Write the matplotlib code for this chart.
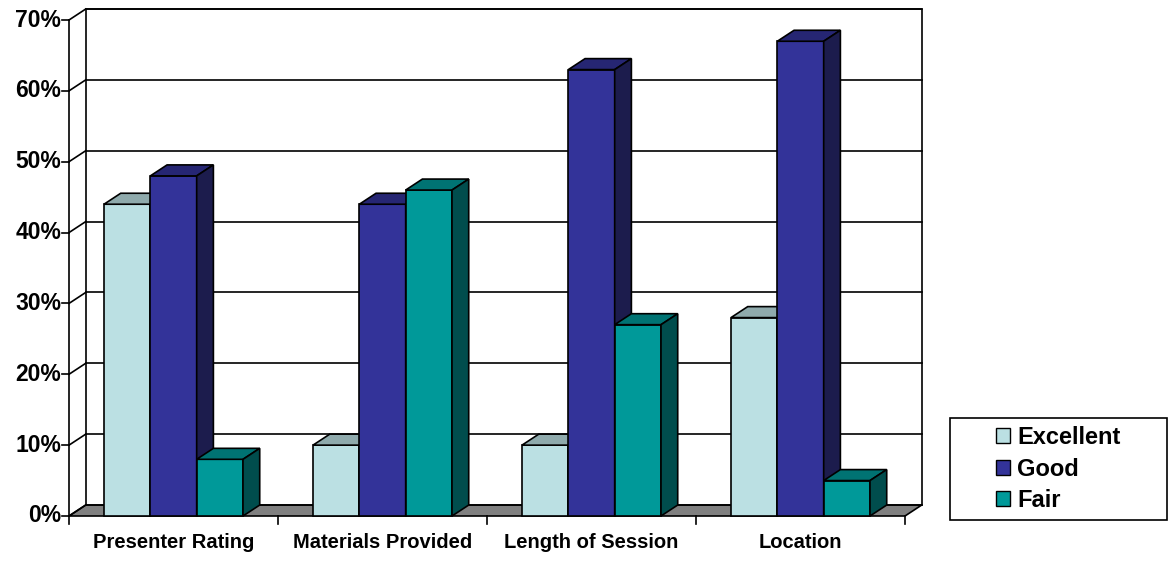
import matplotlib
matplotlib.use('Agg')
import matplotlib.pyplot as plt
from matplotlib.patches import Polygon, Rectangle, Patch

categories = ['Presenter Rating', 'Materials Provided', 'Length of Session', 'Location']
series = ['Excellent', 'Good', 'Fair']
excellent = [44, 10, 10, 28]
good = [48, 44, 63, 67]
fair = [8, 46, 27, 5]
yticks = [0, 10, 20, 30, 40, 50, 60, 70]
ytick_labels = ['0%', '10%', '20%', '30%', '40%', '50%', '60%', '70%']

# front, top, side shades for each series
face_colors = {
    'Excellent': ('#BBE0E3', '#8FAAAC', '#6E8486'),
    'Good': ('#333399', '#262673', '#1C1C4D'),
    'Fair': ('#009999', '#007373', '#004D4D'),
}

plt.rcParams['font.family'] = ['Liberation Sans', 'DejaVu Sans']
plt.rcParams['font.weight'] = 'bold'

fig = plt.figure(figsize=(11.71, 5.65), dpi=100)
ax = fig.add_axes([0, 0, 1, 1])
px_x = 209.0      # pixels per category
px_y = 7.0857     # pixels per percent
ax.set_xlim(-69 / px_x, (1171 - 69) / px_x)
ax.set_ylim(-49 / px_y, 516 / px_y)
ax.axis('off')

dx, dy = 0.08, 1.55   # depth offset in data units
ymax = 70
ncat = len(categories)
lw = 1.2

# floor
ax.add_patch(Polygon([(0, 0), (ncat, 0), (ncat + dx, dy), (dx, dy)],
                     closed=True, facecolor='#808080', edgecolor='black', lw=lw, zorder=1))

# back wall outline + gridlines + side wall diagonals
ax.plot([dx, dx, ncat + dx, ncat + dx], [dy, ymax + dy, ymax + dy, dy], color='black', lw=lw, zorder=1)
for v in yticks:
    ax.plot([dx, ncat + dx], [v + dy, v + dy], color='black', lw=lw, zorder=1)
    ax.plot([0, dx], [v, v + dy], color='black', lw=lw, zorder=1)
    ax.plot([-7 / px_x, 0], [v, v], color='black', lw=lw, zorder=1)
ax.plot([0, 0], [0, ymax], color='black', lw=lw, zorder=1)
for lab, v in zip(ytick_labels, yticks):
    ax.text(-8 / px_x, v, lab, ha='right', va='center', fontsize=16.5, fontweight='bold')

# category ticks and labels
for i in range(ncat + 1):
    ax.plot([i, i], [0, -8 / px_y], color='black', lw=lw, zorder=1)
for i, c in enumerate(categories):
    ax.text(i + 0.5, -27 / px_y, c, ha='center', va='center', fontsize=14.5, fontweight='bold')

# 3D-looking bars, drawn left to right
gap = 35 / px_x
bw = (1 - 2 * gap) / 3
values = {'Excellent': excellent, 'Good': good, 'Fair': fair}
for i in range(ncat):
    for j, s in enumerate(series):
        h = values[s][i]
        l = i + gap + j * bw
        r = l + bw
        front, top, side = face_colors[s]
        ax.add_patch(Polygon([(l, 0), (r, 0), (r, h), (l, h)], closed=True,
                             facecolor=front, edgecolor='black', lw=lw, zorder=3))
        ax.add_patch(Polygon([(l, h), (r, h), (r + dx, h + dy), (l + dx, h + dy)], closed=True,
                             facecolor=top, edgecolor='black', lw=lw, zorder=3))
        ax.add_patch(Polygon([(r, 0), (r + dx, dy), (r + dx, h + dy), (r, h)], closed=True,
                             facecolor=side, edgecolor='black', lw=lw, zorder=3))

# legend box
box_l, box_r, box_t, box_b = 950, 1167, 418, 520
ax.add_patch(Rectangle(((box_l - 69) / px_x, (516 - box_b) / px_y),
                       (box_r - box_l) / px_x, (box_b - box_t) / px_y,
                       facecolor='white', edgecolor='black', lw=lw, zorder=2))
handles = [Patch(facecolor=face_colors[s][0], edgecolor='black', lw=1.0) for s in series]
fig.legend(handles, series, loc='center',
           bbox_to_anchor=((box_l + box_r) / 2 / 1171, 1 - (box_t + box_b) / 2 / 565),
           frameon=False, handlelength=0.6, handleheight=0.6,
           handletextpad=0.3, labelspacing=0.35, borderpad=0,
           prop={'weight': 'bold', 'size': 17})

fig.savefig('out.png', dpi=100)
